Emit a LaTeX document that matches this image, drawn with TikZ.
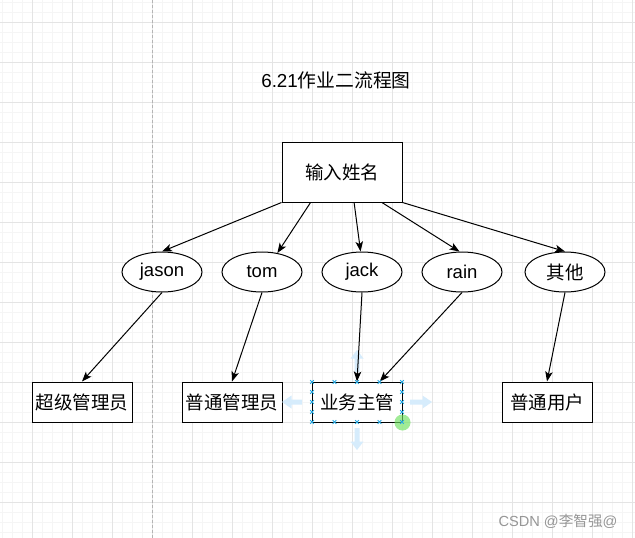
\documentclass[tikz,border=0pt]{standalone}
\usepackage{fontspec}
\setmainfont{Liberation Sans}
\newfontfamily\cjk{Noto Sans CJK SC}
\usetikzlibrary{shapes.geometric,arrows.meta,calc}

\definecolor{gridminor}{RGB}{245,245,245}
\definecolor{gridmajor}{RGB}{228,228,228}
\definecolor{pageline}{RGB}{180,180,180}
\definecolor{handleblue}{RGB}{41,168,224}
\definecolor{hintblue}{RGB}{214,236,252}
\definecolor{hovergreen}{RGB}{110,225,95}
\definecolor{markgray}{RGB}{150,150,150}

\tikzset{
    box/.style={draw, fill=white, line width=1pt, minimum height=40pt, inner sep=0pt,
        font=\cjk\fontsize{18.5}{20}\selectfont},
    oval/.style={ellipse, draw, fill=white, line width=1pt, minimum width=80pt,
        minimum height=40pt, inner sep=0pt, font=\fontsize{18.5}{20}\selectfont},
    flow/.style={->, line width=1pt},
    handle/.style={handleblue, line width=0.8pt},
}

\begin{document}
\begin{tikzpicture}[x=1pt, y=-1pt, >={Stealth[length=10pt,width=7.5pt,inset=2.5pt]}]
    
    \useasboundingbox (0,0) rectangle (635,538);
    \fill[white] (0,0) rectangle (635,538);
    
    \foreach \x in {2,12,...,632} \draw[gridminor, line width=0.8pt] (\x,0) -- (\x,538);
    \foreach \y in {2,12,...,532} \draw[gridminor, line width=0.8pt] (0,\y) -- (635,\y);
    \foreach \x in {32,72,...,632} \draw[gridmajor, line width=0.9pt] (\x,0) -- (\x,538);
    \foreach \y in {22,62,...,502} \draw[gridmajor, line width=0.9pt] (0,\y) -- (635,\y);
    \draw[pageline, line width=0.9pt, dash pattern=on 3pt off 2pt] (152,0) -- (152,538);
    
    \node (title) at (336,80) {\fontsize{18.8}{20}\selectfont 6.21\cjk 作业二流程图};
    
    \node[box, minimum width=120pt, minimum height=60pt] (in) at (342,172) {输入姓名};
    
    \node[oval] (e1) at (162,272) {jason};
    \node[oval] (e2) at (262,272) {tom};
    \node[oval] (e3) at (362,272) {jack};
    \node[oval] (e4) at (462,272) {rain};
    \node[oval] (e5) at (565,272) {\cjk 其他};
    
    \node[box, minimum width=100pt] (r1) at (82,402) {超级管理员};
    \node[box, minimum width=100pt] (r2) at (232,402) {普通管理员};
    \node[box, minimum width=90pt] (r3) at (357,402) {业务主管};
    \node[box, minimum width=90pt] (r4) at (547,402) {普通用户};
    
    \fill[hintblue] (354.5,372) -- (354.5,358.5) -- (350.5,358.5) -- (357,350) -- (363.5,358.5) -- (359.5,358.5) -- (359.5,372) -- cycle;
    \fill[hintblue] (354.5,428) -- (354.5,441.5) -- (350.5,441.5) -- (357,450) -- (363.5,441.5) -- (359.5,441.5) -- (359.5,428) -- cycle;
    \fill[hintblue] (302,399.5) -- (291.5,399.5) -- (291.5,395.5) -- (282,402) -- (291.5,408.5) -- (291.5,404.5) -- (302,404.5) -- cycle;
    \fill[hintblue] (410,399.5) -- (422.5,399.5) -- (422.5,395.5) -- (432,402) -- (422.5,408.5) -- (422.5,404.5) -- (410,404.5) -- cycle;
    
    \draw[flow] (in.south west) -- (e1.north);
    \draw[flow] ($(in.south west)!0.24!(in.south east)$) -- (e2.51);
    \draw[flow] ($(in.south west)!0.6!(in.south east)$) -- (e3.94);
    \draw[flow] ($(in.south west)!0.83!(in.south east)$) -- (e4.97);
    \draw[flow] (in.south east) -- (e5.north);
    
    \draw[flow] (e1.south) -- (r1.north);
    \draw[flow] (e2.south) -- (r2.north);
    \draw[flow] (e3.south) -- (r3.north);
    \draw[flow] (e4.south) -- ($(r3.north)!0.5!(r3.north east)$);
    \draw[flow] (e5.south) -- (r4.north);
    
    \fill[hovergreen, fill opacity=0.65] (r3.south east) circle (8);
    
    \foreach \x in {312,334.5,357,379.5,402} {
        \draw[handle] (\x-1.8,380.2) -- (\x+1.8,383.8) (\x-1.8,383.8) -- (\x+1.8,380.2);
        \draw[handle] (\x-1.8,420.2) -- (\x+1.8,423.8) (\x-1.8,423.8) -- (\x+1.8,420.2);
    }
    \foreach \y in {392,402,412} {
        \draw[handle] (310.2,\y-1.8) -- (313.8,\y+1.8) (310.2,\y+1.8) -- (313.8,\y-1.8);
        \draw[handle] (400.2,\y-1.8) -- (403.8,\y+1.8) (400.2,\y+1.8) -- (403.8,\y-1.8);
    }
    
    \node[markgray] (mark) at (558,521) {\fontsize{14.6}{16}\selectfont CSDN @\cjk 李智强\rmfamily @};
    \end{tikzpicture}
\end{document}
